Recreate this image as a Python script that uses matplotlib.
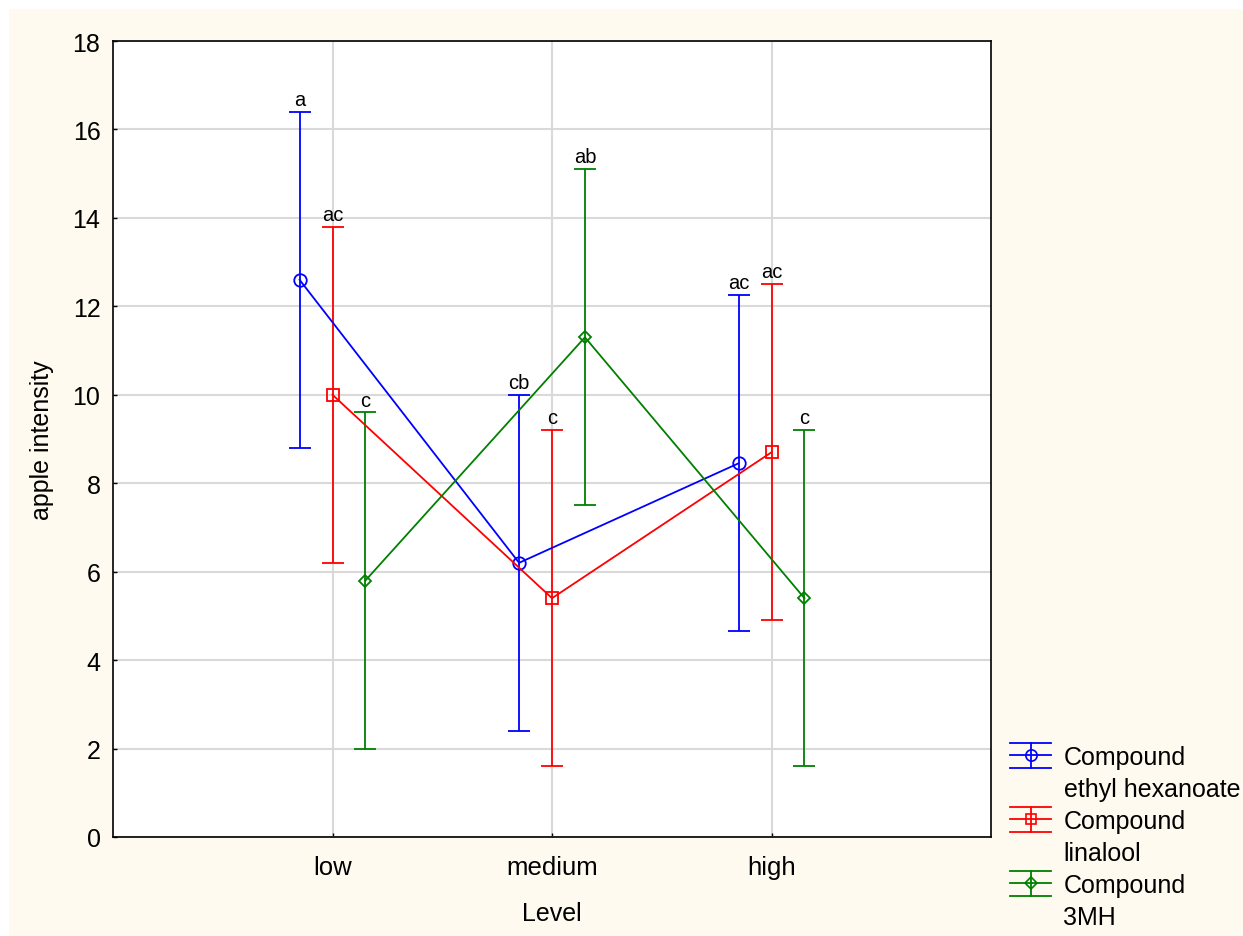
import matplotlib
matplotlib.use("Agg")
import matplotlib.pyplot as plt
from matplotlib.patches import Rectangle
from matplotlib.lines import Line2D
from matplotlib.legend_handler import HandlerBase

plt.rcParams['font.family'] = ['Liberation Sans', 'DejaVu Sans']

# ---- data ----
levels = ["low", "medium", "high"]
series_names = ["ethyl hexanoate", "linalool", "3MH"]
means_ethyl = [12.6, 6.2, 8.45]
err_ethyl = [3.8, 3.8, 3.8]
means_linalool = [10.0, 5.4, 8.7]
err_linalool = [3.8, 3.8, 3.8]
means_3mh = [5.8, 11.3, 5.4]
err_3mh = [3.8, 3.8, 3.8]
letters_ethyl = ["a", "cb", "ac"]
letters_linalool = ["ac", "c", "ac"]
letters_3mh = ["c", "ab", "c"]
y_ticks = [0, 2, 4, 6, 8, 10, 12, 14, 16, 18]

series = [
    (means_ethyl, err_ethyl, letters_ethyl, "#0000FF", "o", 9, -0.15),
    (means_linalool, err_linalool, letters_linalool, "#FF0000", "s", 8.5, 0.0),
    (means_3mh, err_3mh, letters_3mh, "#008000", "D", 6.5, 0.15),
]

W, H = 1243, 937
fig = plt.figure(figsize=(W / 100, H / 100), dpi=100, facecolor="white")
cream = "#FEFAEF"
fig.patches.append(Rectangle((9 / W, 0), 1 - 9 / W, (H - 10) / H,
                             transform=fig.transFigure, facecolor=cream,
                             edgecolor="none", zorder=-10))

ax = fig.add_axes([113 / W, 1 - 838 / H, (991 - 113) / W, (838 - 42) / H])
ax.set_facecolor("white")

for means, errs, lets, col, mk, ms, off in series:
    xs = [i + off for i in range(len(levels))]
    ax.errorbar(xs, means, yerr=errs, color=col, marker=mk, ms=ms,
                mfc="none", mec=col, mew=1.3, lw=1.3, elinewidth=1.3,
                capsize=8, capthick=1.3, zorder=3)
    for x, m, e, t in zip(xs, means, errs, lets):
        ax.annotate(t, (x, m + e), xytext=(0, 2), textcoords="offset points",
                    ha="center", va="bottom", fontsize=14.5, color="black")

ax.set_xlim(-1, 3)
ax.set_ylim(0, 18)
ax.set_xticks(range(len(levels)))
ax.set_xticklabels(levels)
ax.set_yticks(y_ticks)
ax.grid(True, color="#d9d9d9", lw=1.5, zorder=0)
ax.set_axisbelow(True)
ax.tick_params(direction="in", length=3, width=1, labelsize=18, pad=9)
ax.tick_params(axis="x", labelsize=18.5, pad=13)
for sp in ax.spines.values():
    sp.set_linewidth(1.2)
    sp.set_color("black")

ax.set_xlabel("Level", fontsize=18)
ax.set_ylabel("apple intensity", fontsize=18)
ax.xaxis.set_label_coords(0.5, -0.0805)
ax.yaxis.set_label_coords(-0.0672, 0.5)


# ---- legend with custom handles ----
class ErrHandle:
    def __init__(self, color, marker, ms):
        self.color = color
        self.marker = marker
        self.ms = ms


class Blank:
    pass


class ErrHandler(HandlerBase):
    def create_artists(self, legend, orig_handle, xdescent, ydescent,
                       width, height, fontsize, trans):
        c = orig_handle.color
        x0 = -xdescent
        x1 = -xdescent + width
        xm = (x0 + x1) / 2
        yc = -ydescent + height / 2
        h = fontsize * 0.5
        arts = []
        for yy in (yc - h, yc, yc + h):
            arts.append(Line2D([x0, x1], [yy, yy], color=c, lw=1.3))
        arts.append(Line2D([xm, xm], [yc - h, yc + h], color=c, lw=1.3))
        arts.append(Line2D([xm], [yc], marker=orig_handle.marker,
                           ms=orig_handle.ms, mfc="none", mec=c, mew=1.2,
                           ls="none"))
        for a in arts:
            a.set_transform(trans)
        return arts


class BlankHandler(HandlerBase):
    def create_artists(self, legend, orig_handle, xdescent, ydescent,
                       width, height, fontsize, trans):
        ln = Line2D([], [], color="none")
        ln.set_transform(trans)
        return [ln]


handles = []
labels = []
for (means, errs, lets, col, mk, ms, off), name in zip(series, series_names):
    handles += [ErrHandle(col, mk, ms * 0.9), Blank()]
    labels += ["Compound", name]

fig.legend(handles, labels, loc="upper left",
           bbox_to_anchor=(1010 / W, 1 - 746 / H),
           bbox_transform=fig.transFigure,
           handler_map={ErrHandle: ErrHandler(), Blank: BlankHandler()},
           frameon=False, fontsize=18, borderpad=0, borderaxespad=0,
           handlelength=1.64, handletextpad=0.5, labelspacing=0.32)

fig.savefig("out.png", dpi=100, facecolor="white")
